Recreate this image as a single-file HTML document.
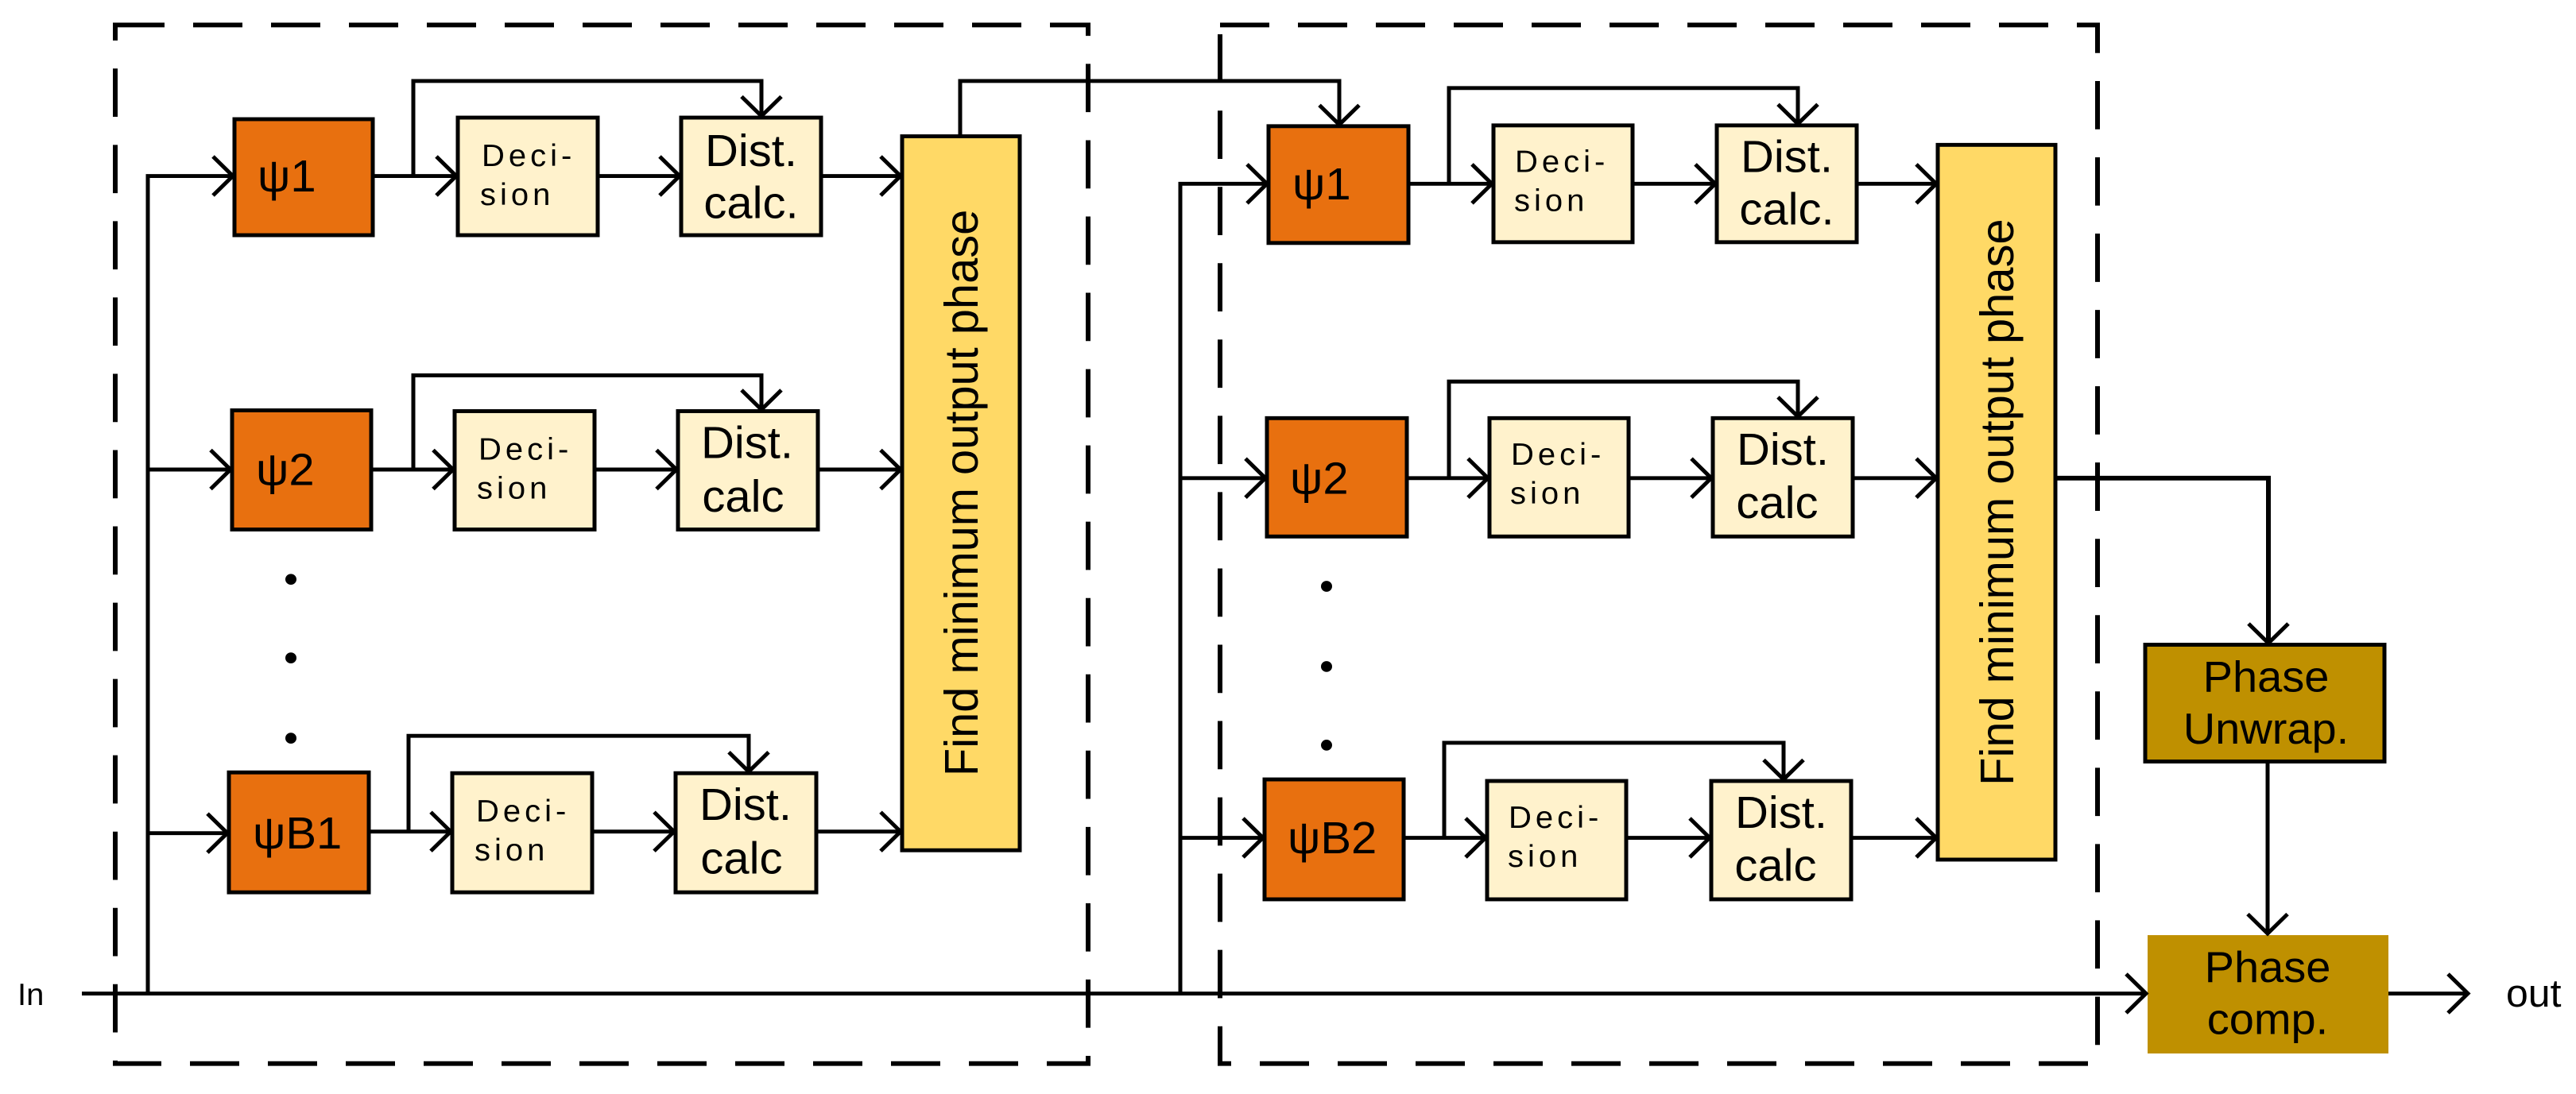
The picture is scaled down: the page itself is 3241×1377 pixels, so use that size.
<!DOCTYPE html>
<html><head><meta charset="utf-8"><style>
html,body{margin:0;padding:0;background:#fff;}
svg{display:block;}
text{font-family:"Liberation Sans",Arial,sans-serif;fill:#000;}
</style></head><body>
<svg width="3241" height="1377" viewBox="0 0 3241 1377" xmlns="http://www.w3.org/2000/svg">
<defs>
<marker id="a" markerUnits="userSpaceOnUse" markerWidth="40" markerHeight="60" refX="30" refY="28" orient="auto">
<path d="M5,3 L30,28 L5,53" fill="none" stroke="#000" stroke-width="5"/>
</marker>
</defs>
<g transform="matrix(1 0 0 0.98 0 3)">
<g fill="none" stroke="#000" stroke-width="6" stroke-dasharray="62,36">
<rect x="145" y="29" width="1224" height="1334"/>
<rect x="1535" y="29" width="1104" height="1334"/>
</g>
<g stroke="#000" stroke-width="5">
<rect x="295" y="150" width="174" height="149" fill="#E8700F"/>
<rect x="576" y="148" width="176" height="151" fill="#FFF2CC"/>
<rect x="857" y="148" width="176" height="151" fill="#FFF2CC"/>
<rect x="292" y="524" width="175" height="153" fill="#E8700F"/>
<rect x="572" y="525" width="176" height="152" fill="#FFF2CC"/>
<rect x="853" y="525" width="176" height="152" fill="#FFF2CC"/>
<rect x="288" y="989" width="176" height="154" fill="#E8700F"/>
<rect x="569" y="990" width="176" height="153" fill="#FFF2CC"/>
<rect x="850" y="990" width="177" height="153" fill="#FFF2CC"/>
<rect x="1135" y="172" width="148" height="917" fill="#FFD966"/>
<rect x="1596" y="159" width="176" height="150" fill="#E8700F"/>
<rect x="1879" y="158" width="175" height="150" fill="#FFF2CC"/>
<rect x="2160" y="158" width="176" height="150" fill="#FFF2CC"/>
<rect x="1594" y="534" width="176" height="152" fill="#E8700F"/>
<rect x="1874" y="534" width="175" height="152" fill="#FFF2CC"/>
<rect x="2155" y="534" width="176" height="152" fill="#FFF2CC"/>
<rect x="1591" y="998" width="175" height="154" fill="#E8700F"/>
<rect x="1871" y="1000" width="175" height="152" fill="#FFF2CC"/>
<rect x="2153" y="1000" width="176" height="152" fill="#FFF2CC"/>
<rect x="2438" y="183" width="148" height="918" fill="#FFD966"/>
<rect x="2699" y="825" width="301" height="150" fill="#BF9000"/>
<rect x="2702" y="1198" width="303" height="152" fill="#BF9000" stroke="none"/>
</g>
<g fill="none" stroke="#000" stroke-width="5">
<line x1="103" y1="1273" x2="2700" y2="1273" marker-end="url(#a)"/>
<polyline points="186,1273 186,223 293,223" marker-end="url(#a)"/>
<line x1="186" y1="600" x2="290" y2="600" marker-end="url(#a)"/>
<line x1="186" y1="1067" x2="286" y2="1067" marker-end="url(#a)"/>
<line x1="469" y1="223" x2="574" y2="223" marker-end="url(#a)"/>
<line x1="752" y1="223" x2="855" y2="223" marker-end="url(#a)"/>
<line x1="1033" y1="223" x2="1133" y2="223" marker-end="url(#a)"/>
<polyline points="520,223 520,101 958,101 958,146" marker-end="url(#a)"/>
<line x1="467" y1="600" x2="570" y2="600" marker-end="url(#a)"/>
<line x1="748" y1="600" x2="851" y2="600" marker-end="url(#a)"/>
<line x1="1029" y1="600" x2="1133" y2="600" marker-end="url(#a)"/>
<polyline points="520,600 520,479 958,479 958,523" marker-end="url(#a)"/>
<line x1="464" y1="1065" x2="567" y2="1065" marker-end="url(#a)"/>
<line x1="745" y1="1065" x2="848" y2="1065" marker-end="url(#a)"/>
<line x1="1027" y1="1065" x2="1133" y2="1065" marker-end="url(#a)"/>
<polyline points="514,1065 514,942 942,942 942,988" marker-end="url(#a)"/>
<polyline points="1208,172 1208,101 1685,101 1685,157" marker-end="url(#a)"/>
<polyline points="1485,1273 1485,233 1594,233" marker-end="url(#a)"/>
<line x1="1485" y1="611" x2="1592" y2="611" marker-end="url(#a)"/>
<line x1="1485" y1="1073" x2="1589" y2="1073" marker-end="url(#a)"/>
<line x1="1772" y1="233" x2="1877" y2="233" marker-end="url(#a)"/>
<line x1="2054" y1="233" x2="2158" y2="233" marker-end="url(#a)"/>
<line x1="2336" y1="233" x2="2436" y2="233" marker-end="url(#a)"/>
<polyline points="1823,233 1823,110 2262,110 2262,156" marker-end="url(#a)"/>
<line x1="1770" y1="611" x2="1872" y2="611" marker-end="url(#a)"/>
<line x1="2049" y1="611" x2="2153" y2="611" marker-end="url(#a)"/>
<line x1="2331" y1="611" x2="2436" y2="611" marker-end="url(#a)"/>
<polyline points="1823,611 1823,487 2262,487 2262,532" marker-end="url(#a)"/>
<line x1="1766" y1="1073" x2="1869" y2="1073" marker-end="url(#a)"/>
<line x1="2046" y1="1073" x2="2151" y2="1073" marker-end="url(#a)"/>
<line x1="2329" y1="1073" x2="2436" y2="1073" marker-end="url(#a)"/>
<polyline points="1817,1073 1817,951 2244,951 2244,998" marker-end="url(#a)"/>
<polyline points="2586,611 2854,611 2854,823" stroke-width="6" marker-end="url(#a)"/>
<line x1="2853" y1="975" x2="2853" y2="1196" marker-end="url(#a)"/>
<line x1="3005" y1="1273" x2="3105" y2="1273" marker-end="url(#a)"/>
</g>
<g fill="#000">
<circle cx="366" cy="741" r="7"/><circle cx="366" cy="842" r="7"/><circle cx="366" cy="945" r="7"/>
<circle cx="1669" cy="750" r="7"/><circle cx="1669" cy="853" r="7"/><circle cx="1669" cy="954" r="7"/>
</g>
<g font-size="58">
<text x="324" y="243">ψ1</text>
<text x="322" y="620">ψ2</text>
<text x="318" y="1087">ψB1</text>
<text x="1626" y="253">ψ1</text>
<text x="1623" y="631">ψ2</text>
<text x="1620" y="1093">ψB2</text>
</g>
<g font-size="40" letter-spacing="5">
<text x="606" y="210">Deci-</text><text x="604" y="260">sion</text>
<text x="602" y="587">Deci-</text><text x="600" y="637">sion</text>
<text x="599" y="1052">Deci-</text><text x="597" y="1102">sion</text>
<text x="1906" y="218">Deci-</text><text x="1905" y="268">sion</text>
<text x="1901" y="594">Deci-</text><text x="1900" y="644">sion</text>
<text x="1898" y="1060">Deci-</text><text x="1897" y="1110">sion</text>
</g>
<g font-size="58" text-anchor="middle">
<text x="945" y="210">Dist.</text><text x="945" y="277">calc.</text>
<text x="940" y="585">Dist.</text><text x="935" y="654">calc</text>
<text x="938" y="1050">Dist.</text><text x="933" y="1119">calc</text>
<text x="2248" y="218">Dist.</text><text x="2248" y="285">calc.</text>
<text x="2243" y="594">Dist.</text><text x="2236" y="662">calc</text>
<text x="2241" y="1060">Dist.</text><text x="2234" y="1128">calc</text>
</g>
<g font-size="59" text-anchor="middle">
<text transform="translate(1230,630) rotate(-90)">Find minimum output phase</text>
<text transform="translate(2533,642) rotate(-90)">Find minimum output phase</text>
</g>
<g font-size="56" text-anchor="middle">
<text x="2851" y="885">Phase</text><text x="2851" y="952">Unwrap.</text>
<text x="2853" y="1258">Phase</text><text x="2853" y="1325">comp.</text>
</g>
<text x="22" y="1288" font-size="40">In</text>
<text x="3153" y="1290" font-size="50">out</text>
</g>
</svg>
</body></html>
